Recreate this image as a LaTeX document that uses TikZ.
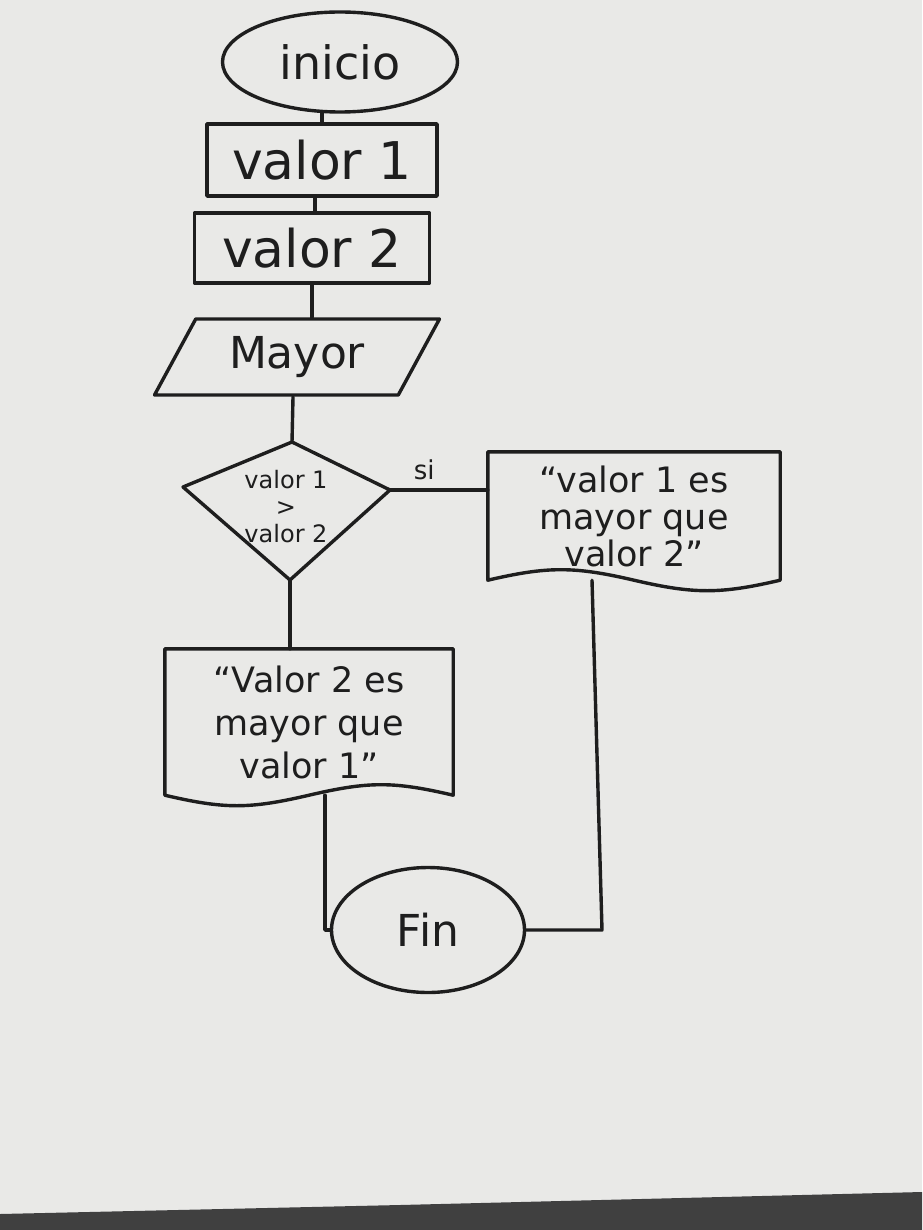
\documentclass[tikz,border=0pt]{standalone}
\usepackage{fontspec}
\setmainfont{DejaVu Sans}
\usetikzlibrary{shapes.geometric}
\definecolor{ink}{HTML}{1E1E1E}
\definecolor{paper}{HTML}{E9E9E7}
\begin{document}
\begin{tikzpicture}[x=1pt,y=-1pt,
  line/.style={draw=ink,line width=3.4pt,line join=round,line cap=round},
  txt/.style={text=ink,align=center,inner sep=0pt},
  term/.style={ellipse,line,txt},
  proc/.style={rectangle,line,txt},
  doc/.style={rectangle,draw=none,txt},
  io/.style={trapezium,trapezium left angle=45,trapezium right angle=135,trapezium stretches body,line,txt}]
\useasboundingbox (0,0) rectangle (922,1230);
\fill[paper] (0,0) rectangle (922,1230);
\fill[ink!85] (0,1230) -- (0,1214) -- (400,1205) -- (922,1192) -- (922,1230) -- cycle;

\node[term,minimum width=235,minimum height=100,font=\fontsize{46}{48}\selectfont] (ini) at (340,62) {inicio};
\node[proc,minimum width=230,minimum height=72,font=\fontsize{52}{54}\selectfont] (v1) at (322,160) {valor 1};
\node[proc,minimum width=235,minimum height=70,font=\fontsize{52}{54}\selectfont] (v2) at (312,248) {valor 2};
\node[io,minimum width=285,minimum height=76,font=\fontsize{44}{46}\selectfont] (may) at (297,357) {Mayor};

% decision diamond
\coordinate (dT) at (292,442);
\coordinate (dL) at (183,487);
\coordinate (dR) at (390,490);
\coordinate (dB) at (290,580);
\draw[line] (dT) -- (dR) -- (dB) -- (dL) -- cycle;
\node[txt,font=\fontsize{24}{27}\selectfont] (cmp) at (286,507) {valor 1\\>\\valor 2};

\node[doc,minimum width=292,minimum height=128,font=\fontsize{35}{37}\selectfont] (r) at (634,516) {“valor 1 es\\mayor que\\valor 2”};
\node[doc,minimum width=288,minimum height=146,font=\fontsize{35}{43}\selectfont] (l) at (309,722) {“Valor 2 es\\mayor que\\valor 1”};
\node[term,minimum width=193,minimum height=125,font=\fontsize{44}{46}\selectfont] (fin) at (428,930) {Fin};

\draw[line] (r.north west) -- (r.north east) -- (r.south east)
  .. controls +(-60,14) and +(60,14) .. (r.south)
  .. controls +(-60,-14) and +(60,-14) .. (r.south west) -- cycle;
\draw[line] (l.north west) -- (l.north east) -- (l.south east)
  .. controls +(-60,-14) and +(60,-14) .. (l.south)
  .. controls +(-60,14) and +(60,14) .. (l.south west) -- cycle;

\draw[line] (ini.south -| v1.north) -- (v1.north);
\draw[line] ([xshift=-7pt]v1.south) -- ([xshift=-7pt]v1.south |- v2.north);
\draw[line] (v2.south) -- (v2.south |- may.north);
\draw[line] ([xshift=-4pt]may.south) -- (dT);
\draw[line] (dR) -- node[pos=0.35,above=8pt,txt,font=\fontsize{26}{28}\selectfont] (si) {si} (r.west |- dR);
\draw[line] (dB) -- (dB |- l.north);
\coordinate (lb) at ([xshift=16pt]l.south);
\draw[line] (lb) |- (fin.west);
\coordinate (rb) at ([xshift=-42pt]r.south);
\draw[line] (rb) -- ([xshift=-32pt]r.south |- fin.east) -- (fin.east);
\end{tikzpicture}
\end{document}
